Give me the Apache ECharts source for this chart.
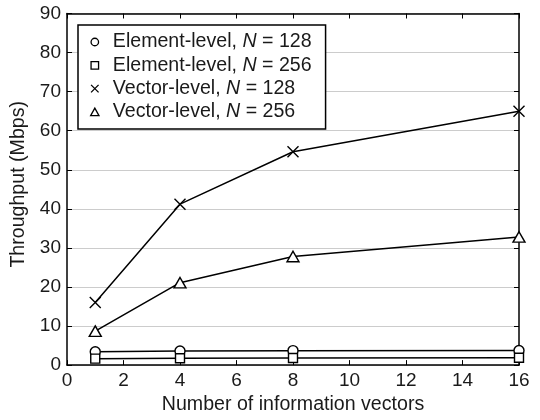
<!DOCTYPE html>
<html><head><meta charset="utf-8">
<script src="https://cdn.jsdelivr.net/npm/echarts@6/dist/echarts.min.js"></script>
<style>html,body{margin:0;padding:0;background:#fff}#c{width:540px;height:420px}</style>
</head><body><div id="c"></div>
<script>
const xValues = [1, 4, 8, 16];
const seriesNames = ['Element-level, N = 128', 'Element-level, N = 256', 'Vector-level, N = 128', 'Vector-level, N = 256'];
const elem128 = [3.4, 3.6, 3.7, 3.75];
const elem256 = [1.65, 1.75, 1.8, 1.9];
const vec128 = [16, 41.2, 54.6, 65];
const vec256 = [8.7, 21.1, 27.8, 32.8];
const xTicks = [0, 2, 4, 6, 8, 10, 12, 14, 16];
const yTicks = [0, 10, 20, 30, 40, 50, 60, 70, 80, 90];

const FONT = 'Liberation Sans';
const TXT = '#1a1a1a';
const crossPath = 'path://M0,0L10,10M10,0L0,10';
const rectPath = 'path://M0,0L10,0L10,10L0,10Z';
const triPath = 'path://M5,0L10,9L0,9Z';
const symbols = ['circle', rectPath, crossPath, triPath];
const sizes = [10, 9, 11, [12, 10.5]];
const dataSets = [elem128, elem256, vec128, vec256];

const series = dataSets.map((arr, i) => ({
  name: seriesNames[i],
  type: 'line',
  data: arr.map((v, j) => [xValues[j], v]),
  symbol: symbols[i],
  symbolSize: sizes[i],
  symbolKeepAspect: false,
  showAllSymbol: true,
  z: 3 + i,
  lineStyle: { color: '#000', width: 1.5 },
  itemStyle: { color: '#fff', borderColor: '#000', borderWidth: 1.4 },
  emphasis: { disabled: true },
  animation: false
}));

const chart = echarts.init(document.getElementById('c'), null, { renderer: 'canvas' });
const axisCommon = {
  axisLine: { show: true, onZero: false, lineStyle: { color: '#000', width: 1.5 } },
  axisTick: { show: true, inside: true, length: 5, lineStyle: { color: '#000', width: 1 } },
};
chart.setOption({
  animation: false,
  grid: { left: 67, right: 21, top: 13.5, bottom: 44, containLabel: false },
  textStyle: { fontFamily: FONT },
  legend: {
    orient: 'vertical',
    left: 78, top: 25,
    padding: [7, 14, 7, 12],
    itemWidth: 26, itemHeight: 7.5,
    itemGap: 3.3,
    symbolKeepAspect: true,
    borderColor: '#000', borderWidth: 1.5, borderRadius: 0,
    backgroundColor: '#fff',
    selectedMode: false,
    data: seriesNames.map((n, i) => ({
      name: n,
      icon: symbols[i],
      itemStyle: { color: '#fff', borderColor: '#000', borderWidth: 1.3 }
    })),
    formatter: n => n.replace('N', '{i|N}'),
    textStyle: {
      fontFamily: FONT, fontSize: 19.6, color: TXT, lineHeight: 20,
      rich: { i: { fontFamily: FONT, fontSize: 19.6, fontStyle: 'italic', color: TXT, lineHeight: 20 } }
    }
  },
  xAxis: [
    Object.assign({
      type: 'value', min: xTicks[0], max: xTicks[xTicks.length - 1], interval: 2,
      name: 'Number of information vectors', nameLocation: 'middle', nameGap: 24,
      nameTextStyle: { fontFamily: FONT, fontSize: 19.6, color: TXT },
      axisLabel: { fontFamily: FONT, fontSize: 19, color: TXT, margin: 6 },
      splitLine: { show: false }
    }, axisCommon),
    Object.assign({
      type: 'value', position: 'top', min: xTicks[0], max: xTicks[xTicks.length - 1], interval: 2,
      axisLabel: { show: false }, splitLine: { show: false }
    }, axisCommon)
  ],
  yAxis: [
    Object.assign({
      type: 'value', min: yTicks[0], max: yTicks[yTicks.length - 1], interval: 10,
      name: 'Throughput (Mbps)', nameLocation: 'middle', nameGap: 34,
      nameTextStyle: { fontFamily: FONT, fontSize: 19.6, color: TXT, padding: [0, 0, 0, 10] },
      axisLabel: { fontFamily: FONT, fontSize: 19, color: TXT, margin: 6 },
      splitLine: { show: true, lineStyle: { color: '#cccccc', width: 1.2 } }
    }, axisCommon),
    Object.assign({
      type: 'value', position: 'right', min: yTicks[0], max: yTicks[yTicks.length - 1], interval: 10,
      axisLabel: { show: false }, splitLine: { show: false }
    }, axisCommon)
  ],
  series: series
});
</script></body></html>
